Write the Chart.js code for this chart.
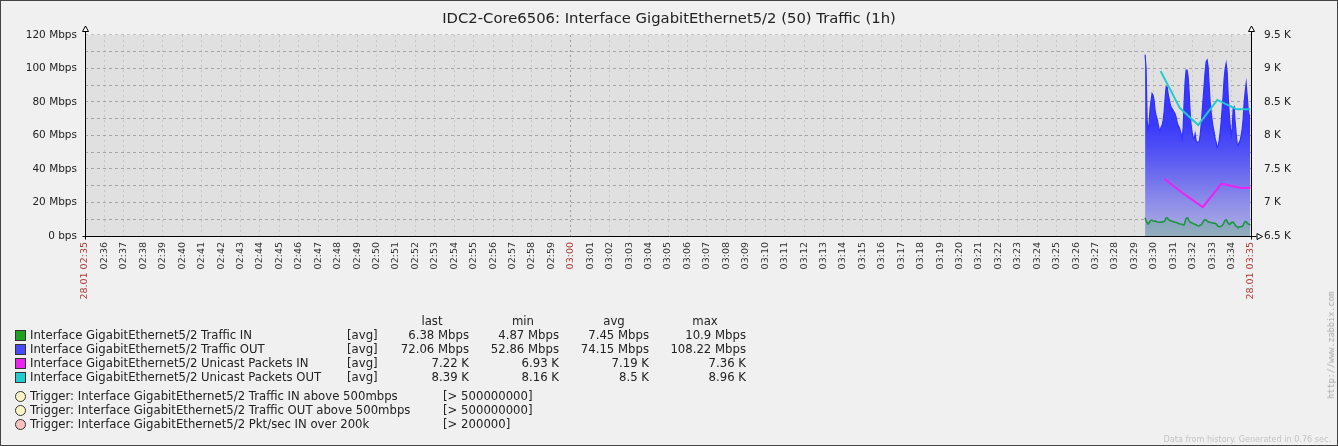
<!DOCTYPE html>
<html><head><meta charset="utf-8">
<script src="https://cdn.jsdelivr.net/npm/chart.js@4.4.1/dist/chart.umd.min.js"></script>
<style>
html,body{margin:0;padding:0;background:#f0f0f0;}
#wrap{position:relative;width:1338px;height:446px;overflow:hidden;font-family:"DejaVu Sans",sans-serif;color:#222;}
#c{position:absolute;left:0;top:0;}
.t{position:absolute;font-size:11.7px;line-height:13px;white-space:nowrap;}
.r{text-align:right;}
.box{position:absolute;width:9px;height:9px;border:1px solid #333;}
.dot{position:absolute;width:9px;height:9px;border:1px solid #333;border-radius:50%;}
#foot{position:absolute;right:7px;top:434px;font-size:8.1px;color:#c4c4c4;white-space:nowrap;}
#url{position:absolute;left:1331px;top:345px;font-family:"DejaVu Sans Mono",monospace;font-size:8.5px;color:#aaa;white-space:nowrap;transform:translate(-50%,-50%) rotate(-90deg);}
</style></head>
<body>
<div id="wrap">
<canvas id="c" width="1338" height="446"></canvas>
<div id="legend"></div>
<div id="foot">Data from history. Generated in 0.76 sec.</div>
<div id="url">http://www.zabbix.com</div>
</div>
<script>
// ---- data ----
const chartTitle = "IDC2-Core6506: Interface GigabitEthernet5/2 (50) Traffic (1h)";
const xTickLabels = ["28.01 02:35","02:36","02:37","02:38","02:39","02:40","02:41","02:42","02:43","02:44","02:45","02:46","02:47","02:48","02:49","02:50","02:51","02:52","02:53","02:54","02:55","02:56","02:57","02:58","02:59","03:00","03:01","03:02","03:03","03:04","03:05","03:06","03:07","03:08","03:09","03:10","03:11","03:12","03:13","03:14","03:15","03:16","03:17","03:18","03:19","03:20","03:21","03:22","03:23","03:24","03:25","03:26","03:27","03:28","03:29","03:30","03:31","03:32","03:33","03:34","28.01 03:35"];
const redTickLabels = ["28.01 02:35","03:00","28.01 03:35"];
const leftTickLabels = ["0 bps","20 Mbps","40 Mbps","60 Mbps","80 Mbps","100 Mbps","120 Mbps"];
const rightTickLabels = ["6.5 K","7 K","7.5 K","8 K","8.5 K","9 K","9.5 K"];

// traffic items sampled every ~3 s, seconds since 02:35:00
const trafficStartSec = 3273;
const trafficStepSec = 3.09;
const trafficOutMbps = [
108.2,100,70,62,67,76,81,85,84,81,
75,72,70,67,64,63,65,66,69,74,
82,89,89,85,82,79,77,76,75,74,
73,71,68,66,65,63,61,58,64,80,
92,99,99,95,86,74,66,62,59,58,
61,57,56,56,56,60,66,74,82,90,
98,104,105,101,90,80,74,69,65,62,
58,56,52.9,54,57,62,68,76,84,94,
100,103,98,84,74,66,60,64,76,77,
68,61,55,54,56,57,60,64,70,80,
86,91,84,76,72,72];
const trafficInMbps = [
10.9,9,8,7.2,7.8,8.8,9.5,9.4,9,8.8,
9,8.7,8.5,8.3,8.2,8.2,8.3,8.4,8.5,8.6,
9.5,10.8,10.9,10.2,9.5,9.2,9,8.9,8.6,8.4,
8.2,8.2,7.9,7.6,7.3,7.2,7.2,6.8,6.7,6.6,
8.5,10.5,10.9,10.5,9,8.3,8,7.8,7.4,7.1,
7,6.6,6.2,6,6.1,6.4,6.6,7.5,8.5,9.3,
9.8,9.6,9,8.5,8.2,8.2,8,7.8,7.7,7.6,
7.6,7.2,6.5,5.8,5.5,5.5,5.9,6.4,7,8.3,
9.4,9.7,8.8,7.8,7,7.2,7.8,8.3,8.2,7.5,
6.5,5.8,5.5,4.9,5.5,5.5,5.6,5.7,6.5,7.8,
8.6,8.5,7.8,7.2,7,6.4];
// packet items (per minute), seconds since 02:35:00
const pktInSec = [3332,3391,3451,3509,3568,3598];
const pktInVals = [7355,7135,6930,7280,7215,7220];
const pktOutSec = [3321,3380,3437,3496,3556,3598];
const pktOutVals = [8960,8410,8155,8530,8390,8390];

// legend
const itemNames = ["Interface GigabitEthernet5/2 Traffic IN","Interface GigabitEthernet5/2 Traffic OUT","Interface GigabitEthernet5/2 Unicast Packets IN","Interface GigabitEthernet5/2 Unicast Packets OUT"];
const itemColors = ["#20a020","#4848ff","#ee22ee","#22cccc"];
const itemFunc = ["[avg]","[avg]","[avg]","[avg]"];
const statHeaders = ["last","min","avg","max"];
const statLast = ["6.38 Mbps","72.06 Mbps","7.22 K","8.39 K"];
const statMin = ["4.87 Mbps","52.86 Mbps","6.93 K","8.16 K"];
const statAvg = ["7.45 Mbps","74.15 Mbps","7.19 K","8.5 K"];
const statMax = ["10.9 Mbps","108.22 Mbps","7.36 K","8.96 K"];
const triggerNames = ["Trigger: Interface GigabitEthernet5/2 Traffic IN above 500mbps","Trigger: Interface GigabitEthernet5/2 Traffic OUT above 500mbps","Trigger: Interface GigabitEthernet5/2 Pkt/sec IN over 200k"];
const triggerValues = ["[> 500000000]","[> 500000000]","[> 200000]"];
const triggerColors = ["#fff6c8","#fff6c8","#ffc0c0"];

// ---- legend html ----
(function(){
  const L = document.getElementById('legend');
  let h = '';
  const rowY = [329, 343, 357, 371];
  const hdrX = [432, 523, 614, 705];
  const colRight = [469, 559, 649, 746];
  statHeaders.forEach((s,i)=>{ h += `<div class="t" style="left:${hdrX[i]-40}px;width:80px;text-align:center;top:315px">${s}</div>`; });
  const cols = [statLast, statMin, statAvg, statMax];
  itemNames.forEach((n,i)=>{
    const y = rowY[i];
    h += `<div class="box" style="left:15px;top:${y+1}px;background:${itemColors[i]}"></div>`;
    h += `<div class="t" style="left:30px;top:${y}px">${n}</div>`;
    h += `<div class="t" style="left:347px;top:${y}px">${itemFunc[i]}</div>`;
    cols.forEach((c,j)=>{ h += `<div class="t r" style="left:${colRight[j]-100}px;width:100px;top:${y}px">${c[i]}</div>`; });
  });
  const trigY = [390, 404, 418];
  triggerNames.forEach((n,i)=>{
    const y = trigY[i];
    h += `<div class="dot" style="left:15px;top:${y+1}px;background:${triggerColors[i]}"></div>`;
    h += `<div class="t" style="left:30px;top:${y}px">${n}</div>`;
    h += `<div class="t" style="left:443px;top:${y}px">${triggerValues[i]}</div>`;
  });
  L.innerHTML = h;
})();

// ---- chart ----
const outPts = trafficOutMbps.map((v,i)=>({x: trafficStartSec + i*trafficStepSec, y: v}));
const inPts = trafficInMbps.map((v,i)=>({x: trafficStartSec + i*trafficStepSec, y: v}));
const pInPts = pktInVals.map((v,i)=>({x: pktInSec[i], y: v}));
const pOutPts = pktOutVals.map((v,i)=>({x: pktOutSec[i], y: v}));

function blueFill(ctx){
  const a = ctx.chart.chartArea;
  if(!a) return 'rgba(80,80,240,0.8)';
  const g = ctx.chart.ctx.createLinearGradient(0, a.top, 0, a.bottom);
  g.addColorStop(0, '#3333ff');
  g.addColorStop(0.45, '#3a3afc');
  g.addColorStop(0.6, '#5656f4');
  g.addColorStop(0.8, '#8686ea');
  g.addColorStop(1, '#b0b0e2');
  return g;
}

const decor = {
  id: 'decor',
  beforeDraw(chart){
    const {ctx, chartArea:a} = chart;
    ctx.save();
    ctx.fillStyle = '#e0e0e0';
    ctx.fillRect(a.left, a.top, a.right-a.left, a.bottom-a.top);
    ctx.restore();
  },
  afterDraw(chart){
    const {ctx, chartArea:a} = chart;
    ctx.save();
    ctx.strokeStyle = '#000'; ctx.lineWidth = 1;
    const L = Math.round(a.left)+0.5, R = Math.round(a.right)+0.5, B = Math.round(a.bottom)+0.5, T = Math.round(a.top);
    ctx.beginPath();
    ctx.moveTo(L, B+3); ctx.lineTo(L, T-3);
    ctx.moveTo(R, B+3); ctx.lineTo(R, T-3);
    ctx.moveTo(L-3, B); ctx.lineTo(R+5, B);
    ctx.stroke();
    ctx.fillStyle = '#fff';
    [[L],[R]].forEach(([x])=>{
      ctx.beginPath(); ctx.moveTo(x, T-9); ctx.lineTo(x+3, T-3.5); ctx.lineTo(x-3, T-3.5); ctx.closePath(); ctx.fill(); ctx.stroke();
    });
    ctx.beginPath(); ctx.moveTo(R+11, B); ctx.lineTo(R+5.5, B-3); ctx.lineTo(R+5.5, B+3); ctx.closePath(); ctx.fill(); ctx.stroke();
    ctx.strokeStyle = '#444';
    ctx.strokeRect(0.5, 0.5, chart.width-1, chart.height-1);
    ctx.restore();
  }
};

new Chart(document.getElementById('c'), {
  type: 'line',
  data: { datasets: [
    { label: itemNames[3], data: pOutPts, yAxisID: 'y2', borderColor: '#1ecccc', borderWidth: 2, pointRadius: 0, fill: false, order: 1 },
    { label: itemNames[2], data: pInPts, yAxisID: 'y2', borderColor: '#ee22ee', borderWidth: 2, pointRadius: 0, fill: false, order: 2 },
    { label: itemNames[0], data: inPts, yAxisID: 'y', borderColor: '#1e9440', borderWidth: 1.6, pointRadius: 0, fill: 'origin', backgroundColor: 'rgba(90,170,120,0.35)', order: 3 },
    { label: itemNames[1], data: outPts, yAxisID: 'y', borderColor: '#3030ff', borderWidth: 1.2, pointRadius: 0, fill: 'origin', backgroundColor: blueFill, order: 4 }
  ]},
  options: {
    responsive: false, animation: false, devicePixelRatio: 1,
    layout: { padding: 0 },
    plugins: {
      legend: { display: false }, tooltip: { enabled: false },
      title: { display: true, text: chartTitle, color: '#222', font: { family: 'DejaVu Sans', size: 14.8, weight: 'normal', lineHeight: 1.2 }, padding: { top: 10, bottom: 7.2 } }
    },
    scales: {
      x: {
        type: 'linear', min: 0, max: 3600,
        afterFit(s){ s.height = 210; },
        ticks: {
          stepSize: 60, maxTicksLimit: 100, autoSkip: false, minRotation: 90, maxRotation: 90, padding: 6,
          font: { family: 'DejaVu Sans', size: 9.5 },
          color: (c) => redTickLabels.includes(xTickLabels[Math.round(c.tick.value/60)]) ? '#b03a3a' : '#333',
          callback: (v) => xTickLabels[Math.round(v/60)]
        },
        grid: { drawTicks: false, color: (c) => (c.tick && c.tick.value === 1500) ? '#9a9a9a' : '#c6c6c6', lineWidth: 1 },
        border: { display: false, dash: [2,3] }
      },
      y: {
        position: 'left', min: 0, max: 120,
        afterFit(s){ s.width = 85; },
        ticks: { stepSize: 10, padding: 8, font: { family: 'DejaVu Sans', size: 10.5 }, color: '#222',
          callback: (v) => (v % 20 === 0) ? leftTickLabels[v/20] : '' },
        grid: { drawTicks: false, color: (c) => (c.tick && c.tick.value === 120) ? '#c4c4c4' : '#a4a4a4', lineWidth: 1 },
        border: { display: false, dash: [3,3] }
      },
      y2: {
        position: 'right', min: 6500, max: 9500,
        afterFit(s){ s.width = 87; },
        ticks: { stepSize: 500, padding: 13, font: { family: 'DejaVu Sans', size: 10.5 }, color: '#222',
          callback: (v) => rightTickLabels[Math.round((v-6500)/500)] },
        grid: { display: false, drawTicks: false },
        border: { display: false }
      }
    }
  },
  plugins: [decor]
});
</script>
</body></html>
